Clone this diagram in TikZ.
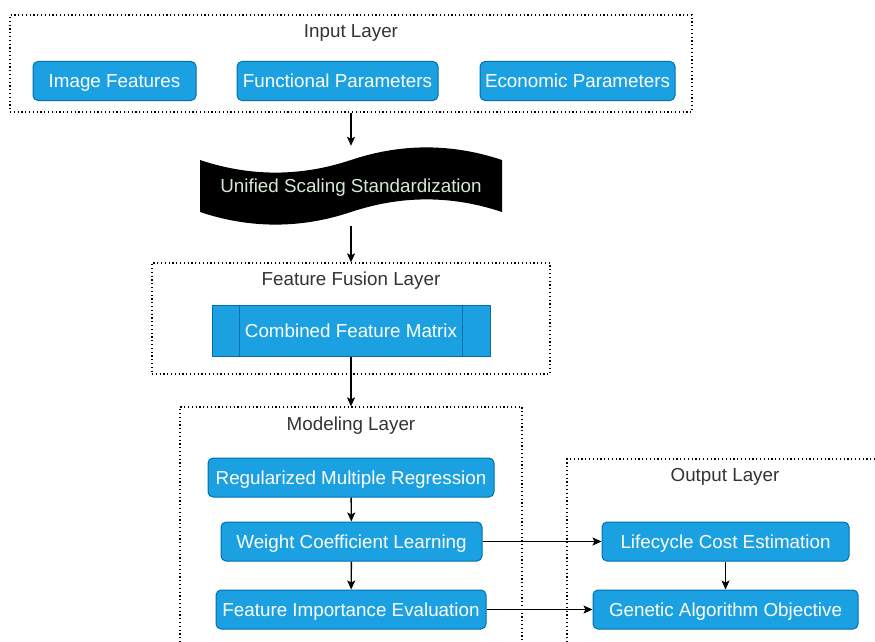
\documentclass[tikz,border=0pt]{standalone}
\usepackage{fontspec}
\setmainfont{Liberation Sans}
\usetikzlibrary{arrows.meta,calc}
\definecolor{boxfill}{HTML}{1BA1E2}
\definecolor{boxline}{HTML}{006EAF}
\definecolor{titlegray}{HTML}{333333}
\definecolor{tapetext}{HTML}{D5E8D4}
\tikzset{
  stdfont/.style={font=\fontsize{18.8}{22}\selectfont, text height=13.5pt, text depth=0pt},
  procbox/.style={stdfont, draw=boxline, fill=boxfill, text=white, rounded corners=5pt,
    line width=1pt, inner sep=0pt, minimum height=39pt},
  groupbox/.style={draw=black, line width=1.2pt, dash pattern=on 1.2pt off 2.6pt, inner sep=0pt},
  grouptitle/.style={stdfont, text=titlegray, inner sep=0pt},
  link/.style={draw=black, line width=1.4pt, -{Stealth[length=9pt,width=8pt,inset=2pt]}},
}
\begin{document}
\begin{tikzpicture}[x=1pt,y=-1pt]
\useasboundingbox (0,0) rectangle (875,642);
\clip (0,0) rectangle (875,642);

% ---- input layer ----
\node[groupbox, minimum width=682pt, minimum height=97pt] (inbox) at (351,63.5) {};
\node[grouptitle] (intitle) at (351,31) {Input Layer};
\node[procbox, minimum width=163pt] (img) at (114.5,81) {Image Features};
\node[procbox, minimum width=201pt] (func) at (337.5,81) {Functional Parameters};
\node[procbox, minimum width=195pt] (econ) at (577.5,81) {Economic Parameters};

% ---- scaling tape ----
\fill[black] (200,160) .. controls (250.33,176.8) and (300.67,176.8) .. (351,160)
  .. controls (401.33,143.2) and (451.67,143.2) .. (502,160)
  -- (502,212)
  .. controls (451.67,195.2) and (401.33,195.2) .. (351,212)
  .. controls (300.67,228.8) and (250.33,228.8) .. (200,212) -- cycle;
\node[stdfont, text=tapetext, inner sep=0pt, minimum width=302pt, minimum height=80pt] (tape) at (351,186) {Unified Scaling Standardization};

% ---- feature fusion layer ----
\node[groupbox, minimum width=398pt, minimum height=111pt] (fusebox) at (351,318.5) {};
\node[grouptitle] (fusetitle) at (351,279) {Feature Fusion Layer};
\node[stdfont, draw=boxline, fill=boxfill, text=white, line width=1pt, inner sep=0pt,
  minimum width=278pt, minimum height=51pt] (matrix) at (351,330.5) {Combined Feature Matrix};
\draw[boxline, line width=1pt] ($(matrix.north west)+(28,0)$) -- ($(matrix.south west)+(28,0)$);
\draw[boxline, line width=1pt] ($(matrix.north east)+(-28,0)$) -- ($(matrix.south east)+(-28,0)$);

% ---- modeling layer ----
\node[groupbox, minimum width=342pt, minimum height=260pt] (modbox) at (351,537) {};
\node[grouptitle] (modtitle) at (351,424) {Modeling Layer};
\node[procbox, minimum width=286pt] (reg) at (351,477.5) {Regularized Multiple Regression};
\node[procbox, minimum width=261pt] (weight) at (351.5,541.5) {Weight Coefficient Learning};
\node[procbox, minimum width=270pt] (imp) at (351,609.5) {Feature Importance Evaluation};

% ---- output layer ----
\node[groupbox, minimum width=340pt, minimum height=240pt] (outbox) at (737,579) {};
\node[grouptitle] (outtitle) at (725,475) {Output Layer};
\node[procbox, minimum width=247pt] (life) at (725.5,541.5) {Lifecycle Cost Estimation};
\node[procbox, minimum width=265pt] (ga) at (725.5,609.5) {Genetic Algorithm Objective};

% ---- connectors ----
\draw[link] (inbox.south) -- (tape.north);
\draw[link] (tape.south) -- (fusebox.north);
\draw[link] (matrix.south) -- (modbox.north);
\draw[link] (reg) -- (weight);
\draw[link] (weight) -- (imp);
\draw[link] (weight) -- (life);
\draw[link] (imp) -- (ga);
\draw[link] (life) -- (ga);
\end{tikzpicture}
\end{document}
